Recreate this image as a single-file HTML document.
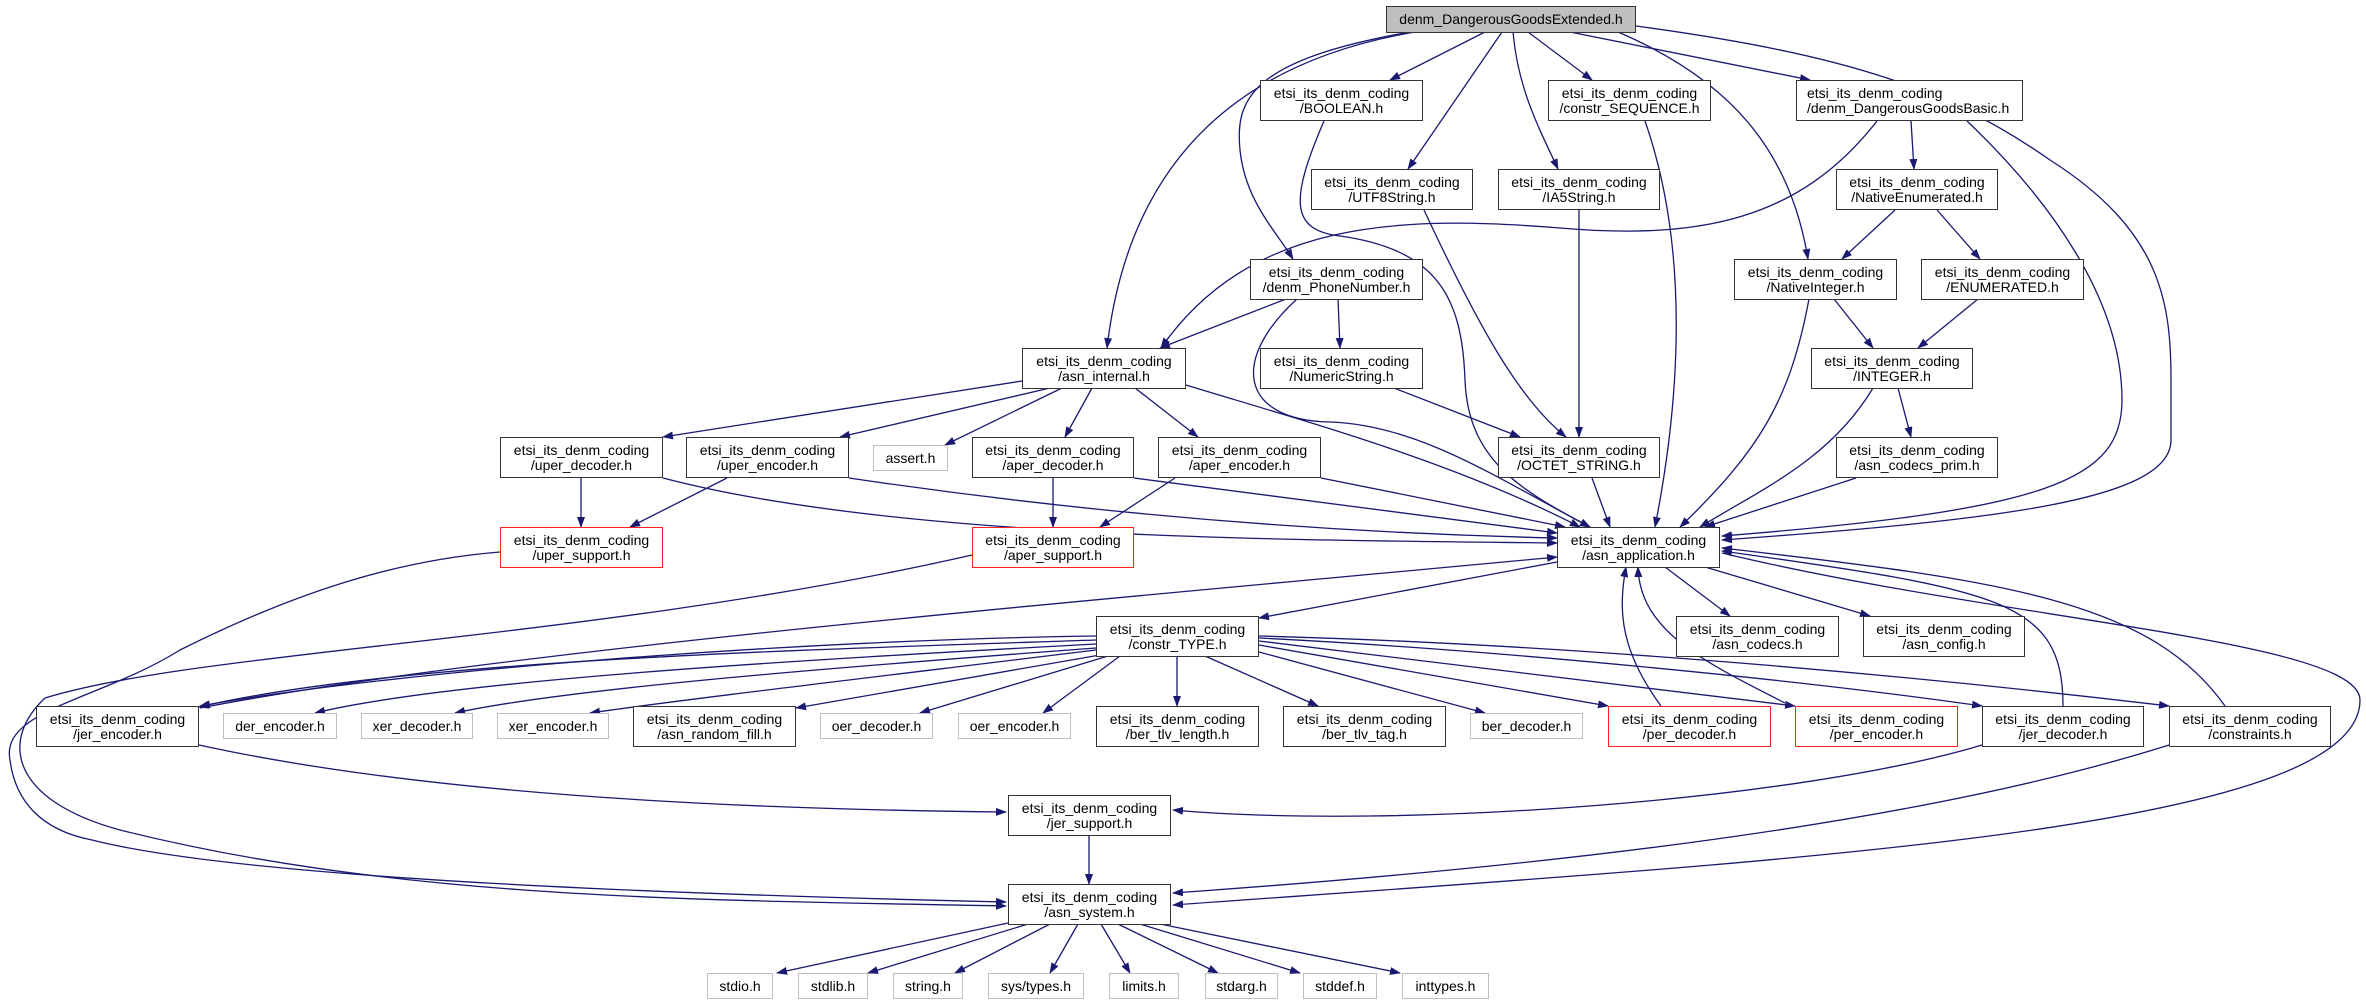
<!DOCTYPE html>
<html><head><meta charset="utf-8"><style>
body{margin:0;width:2366px;height:1005px;background:#fff;position:relative;overflow:hidden;font-family:"Liberation Sans",sans-serif;}
.n{position:absolute;box-sizing:border-box;border:1.5px solid #333;background:#fff;font-size:14px;line-height:15px;text-align:center;display:flex;flex-direction:column;justify-content:center;color:#000;white-space:nowrap;}
.g{border-color:#bfbfbf;}
.r{border-color:#ff2020;}
svg{position:absolute;left:0;top:0;}
</style></head><body>
<svg width="2366" height="1005" viewBox="0 0 2366 1005">
<defs><marker id="a" markerWidth="11" markerHeight="8" refX="10" refY="4" orient="auto" markerUnits="userSpaceOnUse"><path d="M0,0 L11,4 L0,8 z" fill="#191970"/></marker></defs>
<g fill="none" stroke="#191970" stroke-width="1.3" marker-end="url(#a)">
<path d="M1415,32 C1250,60 1130,150 1107,348"/>
<path d="M1410,32 C1250,60 1235,100 1240,150 C1245,200 1275,230 1293,259"/>
<path d="M1485,32 L1390,80"/>
<path d="M1502,32 L1408,169"/>
<path d="M1513,32 C1518,90 1540,130 1558,169"/>
<path d="M1528,32 L1592,80"/>
<path d="M1618,32 C1730,80 1790,150 1808,259"/>
<path d="M1570,32 L1810,80"/>
<path d="M1636,26 C1850,55 1950,90 2050,160 C2160,230 2171,300 2171,380 L2171,440 C2171,500 2000,520 1722,540"/>
<path d="M1877,121 C1800,220 1700,240 1560,228 C1400,215 1250,220 1161,348"/>
<path d="M1911,121 L1914,169"/>
<path d="M1967,121 C2050,200 2122,300 2122,400 C2122,480 2050,510 1722,536"/>
<path d="M1895,210 L1842,259"/>
<path d="M1937,210 L1980,259"/>
<path d="M1834,299 L1873,348"/>
<path d="M1809,299 C1790,400 1760,450 1680,527"/>
<path d="M1978,299 L1918,348"/>
<path d="M1898,388 L1911,437"/>
<path d="M1873,388 C1830,460 1760,490 1700,527"/>
<path d="M1856,478 L1705,527"/>
<path d="M1324,121 C1290,200 1290,230 1340,236 C1440,250 1462,300 1465,380 C1468,460 1520,490 1590,527"/>
<path d="M1645,121 C1690,250 1680,400 1655,527"/>
<path d="M1424,210 C1480,330 1520,400 1566,437"/>
<path d="M1579,210 L1579,437"/>
<path d="M1286,299 L1160,348"/>
<path d="M1338,299 L1340,348"/>
<path d="M1297,299 C1230,360 1240,420 1330,422 C1420,425 1500,480 1590,527"/>
<path d="M1394,388 L1520,437"/>
<path d="M1592,478 L1610,527"/>
<path d="M1022,381 L663,437"/>
<path d="M1050,388 L840,437"/>
<path d="M1062,388 L945,445"/>
<path d="M1092,388 L1065,437"/>
<path d="M1135,388 L1198,437"/>
<path d="M1186,385 C1300,420 1450,460 1580,527"/>
<path d="M581,478 L581,527"/>
<path d="M663,478 C900,540 1300,540 1557,543"/>
<path d="M849,478 Q1200,530 1557,538"/>
<path d="M727,478 L630,527"/>
<path d="M1053,478 L1053,527"/>
<path d="M1134,478 L1557,533"/>
<path d="M1175,478 L1100,527"/>
<path d="M1321,478 L1565,527"/>
<path d="M500,552 C400,560 300,590 180,650 C100,700 0,710 10,760 C15,800 40,830 92,840 C250,880 700,895 1006,902"/>
<path d="M972,555 C600,640 200,650 45,698 C0,740 10,800 120,830 C400,900 700,900 1006,906"/>
<path d="M1722,553 C2000,620 2360,640 2360,700 C2360,830 1800,860 1173,905"/>
<path d="M1557,562 L1259,618"/>
<path d="M1665,567 L1730,616"/>
<path d="M1705,567 L1870,616"/>
<path d="M200,708 C500,650 1100,600 1557,557"/>
<path d="M1096,640 C800,650 400,660 199,707"/>
<path d="M1096,636 C800,640 400,670 200,706"/>
<path d="M1096,644 C800,660 450,680 315,713"/>
<path d="M1096,648 C800,670 560,690 455,713"/>
<path d="M1096,650 C850,680 680,700 590,713"/>
<path d="M1100,655 L796,708"/>
<path d="M1108,656 L920,713"/>
<path d="M1120,656 L1043,713"/>
<path d="M1177,656 L1177,706"/>
<path d="M1205,656 L1318,706"/>
<path d="M1259,652 L1485,713"/>
<path d="M1259,645 L1608,706"/>
<path d="M1259,641 L1795,706"/>
<path d="M1259,638 C1500,650 1800,680 1982,706"/>
<path d="M1259,636 C1600,645 1950,680 2169,706"/>
<path d="M1661,706 C1620,650 1618,610 1626,567"/>
<path d="M1785,703 C1700,660 1640,630 1638,567"/>
<path d="M2063,706 C2063,600 2000,590 1722,551"/>
<path d="M2225,706 C2150,600 2000,580 1722,548"/>
<path d="M1982,745 C1800,800 1400,830 1173,810"/>
<path d="M2169,745 C1900,830 1500,870 1173,893"/>
<path d="M199,745 C450,800 800,810 1006,812"/>
<path d="M1089,835 L1089,884"/>
<path d="M1008,923 L777,973"/>
<path d="M1028,924 L868,973"/>
<path d="M1050,924 L955,973"/>
<path d="M1078,924 L1050,973"/>
<path d="M1101,924 L1130,973"/>
<path d="M1118,924 L1218,973"/>
<path d="M1140,924 L1300,973"/>
<path d="M1160,924 L1400,973"/>
</g>
</svg>
<div class="n" style="left:1386px;top:6px;width:250px;height:27px;background:#bfbfbf;">denm_DangerousGoodsExtended.h</div>
<div class="n" style="left:1260px;top:80px;width:163px;height:41px;">etsi_its_denm_coding<span>/BOOLEAN.h</span></div>
<div class="n" style="left:1548px;top:80px;width:163px;height:41px;">etsi_its_denm_coding<span>/constr_SEQUENCE.h</span></div>
<div class="n" style="left:1796px;top:80px;width:227px;height:41px;text-align:left;padding-left:10px;">etsi_its_denm_coding<span>/denm_DangerousGoodsBasic.h</span></div>
<div class="n" style="left:1311px;top:169px;width:162px;height:41px;">etsi_its_denm_coding<span>/UTF8String.h</span></div>
<div class="n" style="left:1498px;top:169px;width:162px;height:41px;">etsi_its_denm_coding<span>/IA5String.h</span></div>
<div class="n" style="left:1836px;top:169px;width:162px;height:41px;">etsi_its_denm_coding<span>/NativeEnumerated.h</span></div>
<div class="n" style="left:1250px;top:259px;width:173px;height:41px;">etsi_its_denm_coding<span>/denm_PhoneNumber.h</span></div>
<div class="n" style="left:1734px;top:259px;width:163px;height:41px;">etsi_its_denm_coding<span>/NativeInteger.h</span></div>
<div class="n" style="left:1921px;top:259px;width:163px;height:41px;">etsi_its_denm_coding<span>/ENUMERATED.h</span></div>
<div class="n" style="left:1022px;top:348px;width:164px;height:41px;">etsi_its_denm_coding<span>/asn_internal.h</span></div>
<div class="n" style="left:1260px;top:348px;width:163px;height:41px;">etsi_its_denm_coding<span>/NumericString.h</span></div>
<div class="n" style="left:1811px;top:348px;width:162px;height:41px;">etsi_its_denm_coding<span>/INTEGER.h</span></div>
<div class="n" style="left:500px;top:437px;width:163px;height:41px;">etsi_its_denm_coding<span>/uper_decoder.h</span></div>
<div class="n" style="left:686px;top:437px;width:163px;height:41px;">etsi_its_denm_coding<span>/uper_encoder.h</span></div>
<div class="n g" style="left:873px;top:445px;width:75px;height:26px;">assert.h</div>
<div class="n" style="left:972px;top:437px;width:162px;height:41px;">etsi_its_denm_coding<span>/aper_decoder.h</span></div>
<div class="n" style="left:1158px;top:437px;width:163px;height:41px;">etsi_its_denm_coding<span>/aper_encoder.h</span></div>
<div class="n" style="left:1498px;top:437px;width:162px;height:41px;">etsi_its_denm_coding<span>/OCTET_STRING.h</span></div>
<div class="n" style="left:1836px;top:437px;width:162px;height:41px;">etsi_its_denm_coding<span>/asn_codecs_prim.h</span></div>
<div class="n r" style="left:500px;top:527px;width:163px;height:41px;">etsi_its_denm_coding<span>/uper_support.h</span></div>
<div class="n r" style="left:972px;top:527px;width:162px;height:41px;">etsi_its_denm_coding<span>/aper_support.h</span></div>
<div class="n" style="left:1557px;top:527px;width:163px;height:41px;">etsi_its_denm_coding<span>/asn_application.h</span></div>
<div class="n" style="left:1096px;top:616px;width:163px;height:41px;">etsi_its_denm_coding<span>/constr_TYPE.h</span></div>
<div class="n" style="left:1676px;top:616px;width:163px;height:41px;">etsi_its_denm_coding<span>/asn_codecs.h</span></div>
<div class="n" style="left:1863px;top:616px;width:162px;height:41px;">etsi_its_denm_coding<span>/asn_config.h</span></div>
<div class="n" style="left:36px;top:706px;width:163px;height:41px;">etsi_its_denm_coding<span>/jer_encoder.h</span></div>
<div class="n g" style="left:223px;top:713px;width:114px;height:26px;">der_encoder.h</div>
<div class="n g" style="left:361px;top:713px;width:112px;height:26px;">xer_decoder.h</div>
<div class="n g" style="left:497px;top:713px;width:112px;height:26px;">xer_encoder.h</div>
<div class="n" style="left:633px;top:706px;width:163px;height:41px;">etsi_its_denm_coding<span>/asn_random_fill.h</span></div>
<div class="n g" style="left:820px;top:713px;width:113px;height:26px;">oer_decoder.h</div>
<div class="n g" style="left:958px;top:713px;width:113px;height:26px;">oer_encoder.h</div>
<div class="n" style="left:1096px;top:706px;width:163px;height:41px;">etsi_its_denm_coding<span>/ber_tlv_length.h</span></div>
<div class="n" style="left:1283px;top:706px;width:163px;height:41px;">etsi_its_denm_coding<span>/ber_tlv_tag.h</span></div>
<div class="n g" style="left:1470px;top:713px;width:113px;height:26px;">ber_decoder.h</div>
<div class="n r" style="left:1608px;top:706px;width:163px;height:41px;">etsi_its_denm_coding<span>/per_decoder.h</span></div>
<div class="n r" style="left:1795px;top:706px;width:163px;height:41px;">etsi_its_denm_coding<span>/per_encoder.h</span></div>
<div class="n" style="left:1982px;top:706px;width:162px;height:41px;">etsi_its_denm_coding<span>/jer_decoder.h</span></div>
<div class="n" style="left:2169px;top:706px;width:162px;height:41px;">etsi_its_denm_coding<span>/constraints.h</span></div>
<div class="n" style="left:1008px;top:795px;width:163px;height:41px;">etsi_its_denm_coding<span>/jer_support.h</span></div>
<div class="n" style="left:1008px;top:884px;width:163px;height:41px;">etsi_its_denm_coding<span>/asn_system.h</span></div>
<div class="n g" style="left:707px;top:973px;width:66px;height:26px;">stdio.h</div>
<div class="n g" style="left:798px;top:973px;width:70px;height:26px;">stdlib.h</div>
<div class="n g" style="left:893px;top:973px;width:70px;height:26px;">string.h</div>
<div class="n g" style="left:988px;top:973px;width:96px;height:26px;">sys/types.h</div>
<div class="n g" style="left:1109px;top:973px;width:70px;height:26px;">limits.h</div>
<div class="n g" style="left:1205px;top:973px;width:73px;height:26px;">stdarg.h</div>
<div class="n g" style="left:1303px;top:973px;width:74px;height:26px;">stddef.h</div>
<div class="n g" style="left:1402px;top:973px;width:87px;height:26px;">inttypes.h</div>
</body></html>
